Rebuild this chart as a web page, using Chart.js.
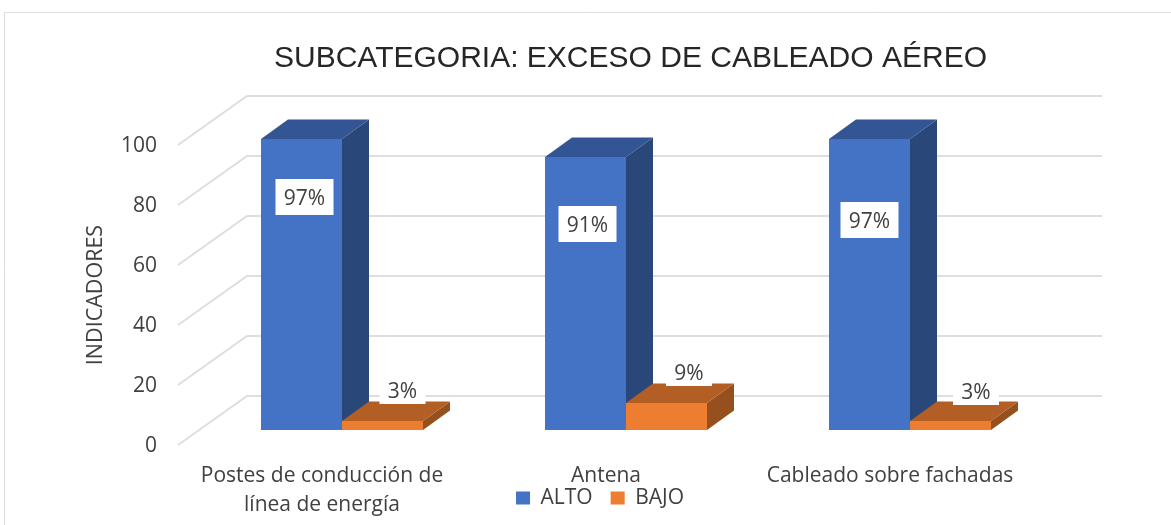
<!DOCTYPE html>
<html>
<head>
<meta charset="utf-8">
<title>Subcategoria</title>
<script src="https://cdn.jsdelivr.net/npm/chart.js@4"></script>
<style>
  html, body { margin: 0; padding: 0; background: #fff; }
  canvas { display: block; }
</style>
</head>
<body>
<canvas id="chart" width="1171" height="525"></canvas>
<script>
const categories = [['Postes de conducción de', 'línea de energía'], 'Antena', 'Cableado sobre fachadas'];
const alto = [97, 91, 97];
const bajo = [3, 9, 3];
const yTicks = [0, 20, 40, 60, 80, 100];

// the label boxes were moved by hand in the original, so they are off centre
const altoLabelShift = [{ x: 3, y: 58 }, { x: 2, y: 67 }, { x: 0, y: 81 }];
const bajoLabelShift = [{ x: -7, y: -31 }, { x: -4.5, y: -31 }, { x: -1.5, y: -30 }];

const textFont = '"Open Sans", sans-serif';
const gridColor = '#dedede';
const depth = { x: 27, y: 19.5 };

const shades = [
  { top: '#335593', side: '#2a4779' },
  { top: '#b25e24', side: '#95501e' }
];

function poly(ctx, pts, color) {
  ctx.fillStyle = color;
  ctx.beginPath();
  pts.forEach((p, i) => i ? ctx.lineTo(p[0], p[1]) : ctx.moveTo(p[0], p[1]));
  ctx.closePath();
  ctx.fill();
}

const frame3d = {
  id: 'frame3d',
  afterLayout(chart) {
    // title and legend are not centred on the canvas in the original
    chart.titleBlock.left = 209;
    chart.legend.left = 148;
    chart.legend.top = 469.5;
    // tick labels get clipped to the scale box, the two line label needs more room
    chart.scales.x.bottom = 525;
  },
  beforeDatasetsDraw(chart) {
    const ctx = chart.ctx;
    const y = chart.scales.y;
    ctx.save();

    // outer frame of the picture
    ctx.strokeStyle = gridColor;
    ctx.lineWidth = 1;
    ctx.beginPath();
    ctx.moveTo(4.5, 525);
    ctx.lineTo(4.5, 12.5);
    ctx.lineTo(1171, 12.5);
    ctx.stroke();

    // back wall and side wall
    ctx.lineWidth = 2;
    yTicks.forEach(v => {
      const py = y.getPixelForValue(v);
      ctx.beginPath();
      ctx.moveTo(178, py + 15);
      ctx.lineTo(247, py - 34);
      ctx.lineTo(1102, py - 34);
      ctx.stroke();
    });

    ctx.restore();
  },
  afterDatasetsDraw(chart) {
    const ctx = chart.ctx;
    ctx.save();

    // bars again, left to right, with the side and top faces
    chart.data.datasets.forEach((ds, d) => {
      chart.getDatasetMeta(d).data.forEach(bar => {
        const l = bar.x - bar.width / 2;
        const r = bar.x + bar.width / 2;
        poly(ctx, [[r, bar.base], [r + depth.x, bar.base - depth.y], [r + depth.x, bar.y - depth.y], [r, bar.y]], shades[d].side);
        poly(ctx, [[l, bar.y], [l + depth.x, bar.y - depth.y], [r + depth.x, bar.y - depth.y], [r, bar.y]], shades[d].top);
        bar.draw(ctx);
      });
    });

    // value labels
    ctx.font = '21px ' + textFont;
    ctx.textAlign = 'center';
    ctx.textBaseline = 'middle';
    [[alto, altoLabelShift, 58, 36], [bajo, bajoLabelShift, 46, 28]].forEach(([values, shift, w, h], d) => {
      const meta = chart.getDatasetMeta(d);
      values.forEach((v, i) => {
        const bar = meta.data[i];
        const cx = bar.x + shift[i].x + (d ? depth.x : 0);
        const cy = bar.y + shift[i].y;
        ctx.fillStyle = '#fff';
        ctx.fillRect(cx - w / 2, cy - h / 2, w, h);
        ctx.fillStyle = '#404040';
        ctx.fillText(v + '%', cx, cy + 2);
      });
    });

    // axis title sits lower than the plot centre
    ctx.translate(96, 295);
    ctx.rotate(-Math.PI / 2);
    ctx.font = '21.5px ' + textFont;
    ctx.fillStyle = '#404040';
    ctx.fillText('INDICADORES', 0, 0);

    ctx.restore();
  }
};

new Chart(document.getElementById('chart'), {
  type: 'bar',
  data: {
    labels: categories,
    datasets: [
      { label: 'ALTO', data: alto, backgroundColor: '#4472c4' },
      { label: 'BAJO', data: bajo, backgroundColor: '#ed7d31' }
    ]
  },
  plugins: [frame3d],
  options: {
    responsive: false,
    animation: false,
    layout: { padding: { left: 0, right: 119, top: 0, bottom: 0 } },
    categoryPercentage: 162 / 284,
    barPercentage: 1,
    scales: {
      x: {
        grid: { display: false },
        border: { display: false },
        afterFit: s => { s.height = 46; },
        ticks: {
          maxRotation: 0,
          padding: 24,
          labelOffset: -20,
          color: '#404040',
          font: { family: textFont, size: 21, lineHeight: 1.35 }
        }
      },
      y: {
        min: 0,
        max: 100,
        grid: { display: false },
        border: { display: false },
        afterFit: s => { s.width = 200; },
        ticks: {
          stepSize: 20,
          padding: 35,
          labelOffset: 16,
          color: '#404040',
          font: { family: textFont, size: 21 }
        }
      }
    },
    plugins: {
      title: {
        display: true,
        text: 'SUBCATEGORIA: EXCESO DE CABLEADO AÉREO',
        color: '#262626',
        font: { family: '"Liberation Sans", Arial, sans-serif', size: 30, weight: 'normal' },
        padding: { top: 41, bottom: 53 }
      },
      legend: {
        position: 'bottom',
        labels: {
          boxWidth: 14,
          boxHeight: 13,
          padding: 18,
          color: '#404040',
          font: { family: textFont, size: 21 }
        }
      },
      tooltip: { enabled: false }
    }
  }
});
</script>
</body>
</html>
